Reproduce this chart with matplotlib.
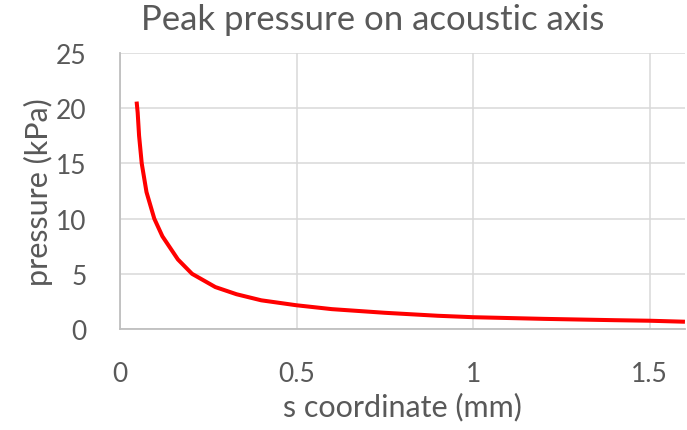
import matplotlib
matplotlib.use("Agg")
import matplotlib.pyplot as plt

# peak pressure along the acoustic axis
s_mm = [0.047, 0.050, 0.054, 0.0615, 0.075, 0.097, 0.12, 0.164, 0.204, 0.27,
        0.33, 0.4, 0.5, 0.6, 0.75, 0.9, 1.0, 1.2, 1.4, 1.5, 1.6]
p_kpa = [20.6, 19.6, 17.5, 15.0, 12.4, 10.0, 8.4, 6.3, 5.0, 3.8,
         3.15, 2.6, 2.15, 1.8, 1.47, 1.2, 1.07, 0.92, 0.8, 0.75, 0.66]

xticks = [0, 0.5, 1, 1.5]
xtick_labels = ["0", "0.5", "1", "1.5"]
yticks = [0, 5, 10, 15, 20, 25]

txt = "#595959"
plt.rcParams["font.family"] = ["Lato", "DejaVu Sans"]

fig = plt.figure(figsize=(6.87, 4.31), dpi=100)
ax = fig.add_axes([0.1747, 0.2343, 0.8223, 0.6404])

ax.plot(s_mm, p_kpa, color="#ff0000", lw=2.9, solid_capstyle="butt",
        solid_joinstyle="round")

ax.set_xlim(0, 1.6)
ax.set_ylim(0, 25)
ax.set_xticks(xticks)
ax.set_xticklabels(xtick_labels)
ax.set_yticks(yticks)

ax.grid(True, color="#d9d9d9", lw=1.1)
ax.set_axisbelow(True)
for side in ["top", "right"]:
    ax.spines[side].set_visible(False)
for side in ["left", "bottom"]:
    ax.spines[side].set_color("#bfbfbf")
    ax.spines[side].set_linewidth(1.3)

ax.tick_params(length=0, labelsize=19, labelcolor=txt)
ax.tick_params(axis="x", pad=23)
ax.tick_params(axis="y", pad=24)

ax.set_xlabel("s coordinate (mm)", fontsize=22, color=txt, labelpad=4)
ax.set_ylabel("pressure (kPa)", fontsize=22, color=txt, labelpad=2)
fig.text(0.543, 0.953, "Peak pressure on acoustic axis", fontsize=25,
         color=txt, ha="center", va="center")

fig.savefig("out.png", dpi=100)
